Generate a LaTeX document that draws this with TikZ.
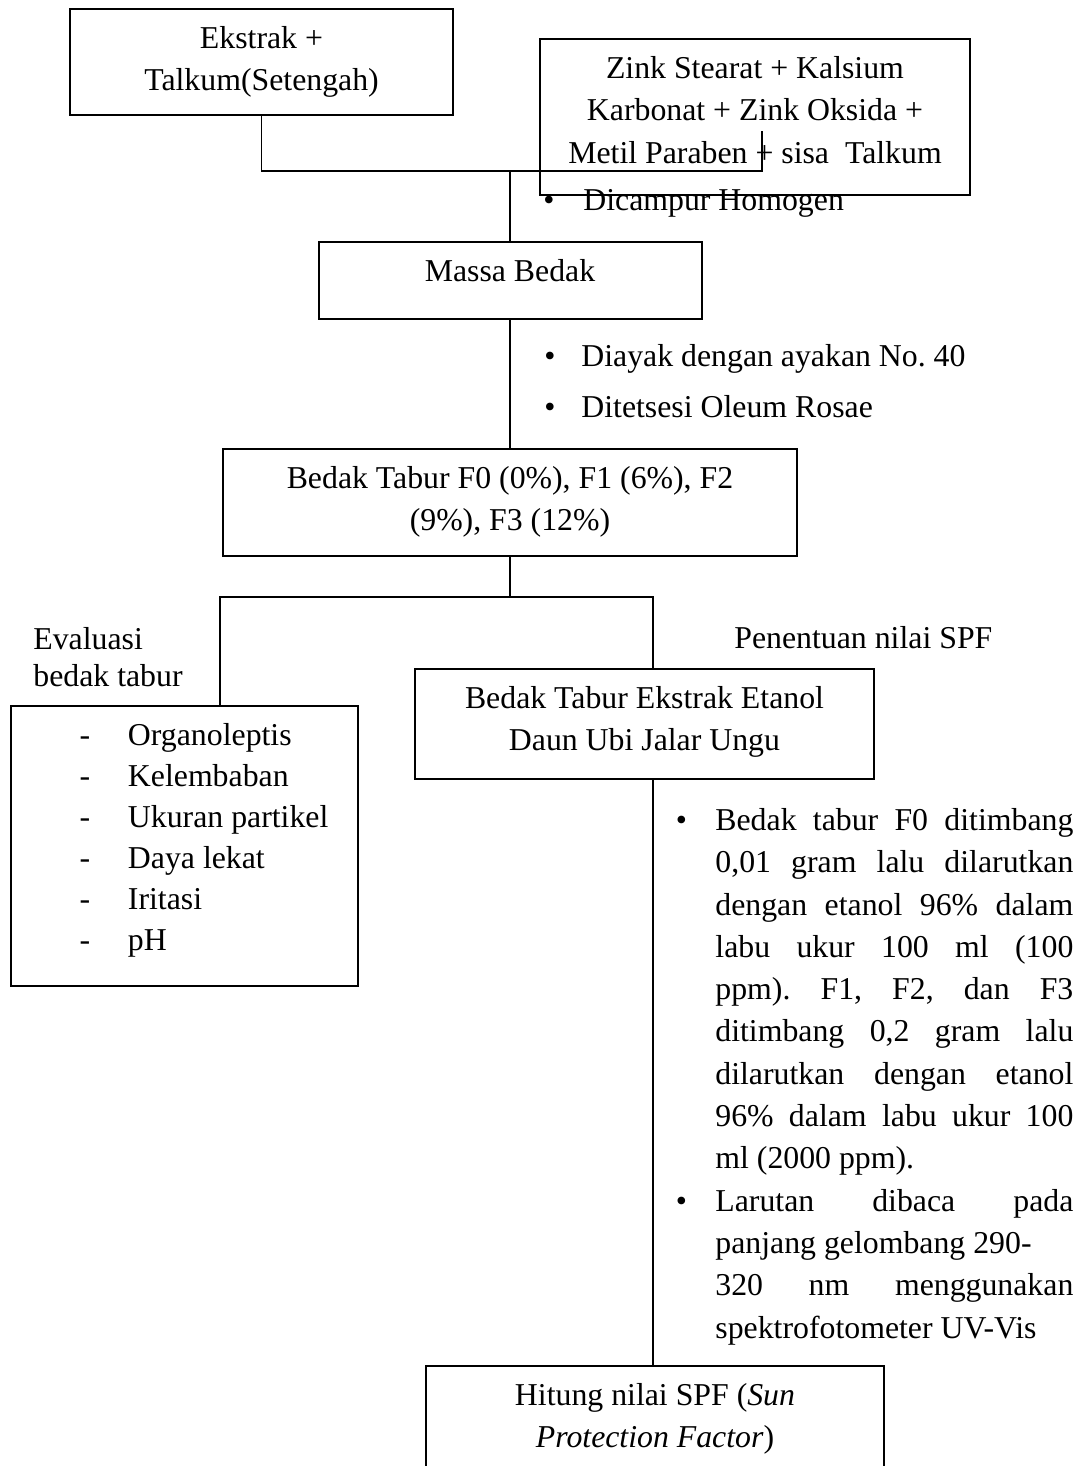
\documentclass[tikz,border=0pt]{standalone}
\usepackage{fontspec}
\setmainfont{Liberation Serif}
\usepackage{tikz}
\frenchspacing

% text of a box: top aligned, first baseline 19.75pt under the top edge
\newcommand{\boxtxt}[4][\centering]{\begin{minipage}[c][#3][t]{#2}#1\rule{0pt}{19.75pt}#4\end{minipage}}
\newcommand{\topstrut}{\rule{0pt}{15pt}}
\newcommand{\bul}[1]{\makebox[#1][l]{\textbullet}}
\newcommand{\dash}{\hspace*{34.3pt}\makebox[24.2pt][l]{-}}

\tikzset{
  box/.style={draw, line width=1pt, inner sep=0pt},
  link/.style={line width=0.65pt},
  note/.style={anchor=north west, inner sep=0pt, align=left},
}

\begin{document}
\begin{tikzpicture}[x=0.5pt, y=-0.5pt, every node/.style={font=\fontsize{15.9}{21.15}\selectfont}]
\clip (0,0) rectangle (1083,1466);

% kotak-kotak
\node[box] (ekstrak) at (261.5,62) {\boxtxt{191.5pt}{53pt}{Ekstrak +\\Talkum(Setengah)}};
\node[box] (zink) at (755,117) {\boxtxt{215pt}{78pt}{Zink Stearat + Kalsium\\Karbonat + Zink Oksida +\\Metil Paraben + sisa~ Talkum}};
\node[box] (massa) at (510,280.5) {\boxtxt{191.5pt}{38.5pt}{Massa Bedak}};
\node[box] (tabur) at (510,502.5) {\boxtxt{287pt}{53.5pt}{Bedak Tabur F0 (0\%), F1 (6\%), F2\\(9\%), F3 (12\%)}};
\node[box] (evalbox) at (184.5,846) {\boxtxt[\raggedright\fontsize{15.9}{20.5}\selectfont]{173.5pt}{140pt}{%
  \dash Organoleptis\\
  \dash Kelembaban\\
  \dash Ukuran partikel\\
  \dash Daya lekat\\
  \dash Iritasi\\
  \dash pH}};
\node[box] (bedak) at (644.5,724) {\boxtxt{229.5pt}{55pt}{Bedak Tabur Ekstrak Etanol\\Daun Ubi Jalar Ungu}};
\node[box] (hitung) at (655,1441) {\boxtxt{229pt}{75pt}{Hitung nilai SPF (\textit{Sun}\\\textit{Protection Factor})}};

% teks di samping garis
\node[note] (homogen) at (543,180) {\topstrut\bul{20pt}Dicampur Homogen};
\node[note] (ayak) at (544,336) {\topstrut\bul{18.5pt}Diayak dengan ayakan No. 40\\[4.4pt]\bul{18.5pt}Ditetsesi Oleum Rosae};
\node[note, font=\fontsize{15.9}{18.5}\selectfont] (evallabel) at (33,619) {\topstrut Evaluasi\\bedak tabur};
\node[note] (spflabel) at (734,618) {\topstrut Penentuan nilai SPF};
\node[note] (ukur) at (675.5,800) {\topstrut
  \bul{19.75pt}\makebox[179pt][s]{Bedak tabur F0 ditimbang}\\
  \hspace*{19.75pt}\makebox[179pt][s]{0,01 gram lalu dilarutkan}\\
  \hspace*{19.75pt}\makebox[179pt][s]{dengan etanol 96\% dalam}\\
  \hspace*{19.75pt}\makebox[179pt][s]{labu ukur 100 ml (100}\\
  \hspace*{19.75pt}\makebox[179pt][s]{ppm). F1, F2, dan F3}\\
  \hspace*{19.75pt}\makebox[179pt][s]{ditimbang 0,2 gram lalu}\\
  \hspace*{19.75pt}\makebox[179pt][s]{dilarutkan dengan etanol}\\
  \hspace*{19.75pt}\makebox[179pt][s]{96\% dalam labu ukur 100}\\
  \hspace*{19.75pt}ml (2000 ppm).\\
  \bul{19.75pt}\makebox[179pt][s]{Larutan dibaca pada}\\
  \hspace*{19.75pt}panjang gelombang 290-\\
  \hspace*{19.75pt}\makebox[179pt][s]{320 nm menggunakan}\\
  \hspace*{19.75pt}spektrofotometer UV-Vis};

% garis penghubung
\coordinate (join) at (510,171);
\coordinate (zinkin) at (762,131);
\coordinate (split) at (510,597);
\coordinate (lcorner) at (220,597);
\coordinate (rcorner) at (653,597);
\draw[link] (ekstrak.south) |- (join) -| (zinkin);
\draw[link] (join) -- (massa.north);
\draw[link] (massa.south) -- (tabur.north);
\draw[link] (tabur.south) -- (split);
\draw[link] (evalbox.north -| lcorner) |- (rcorner) -- (bedak.north -| rcorner);
\draw[link] (bedak.south -| rcorner) -- (hitung.north -| rcorner);
\end{tikzpicture}
\end{document}
